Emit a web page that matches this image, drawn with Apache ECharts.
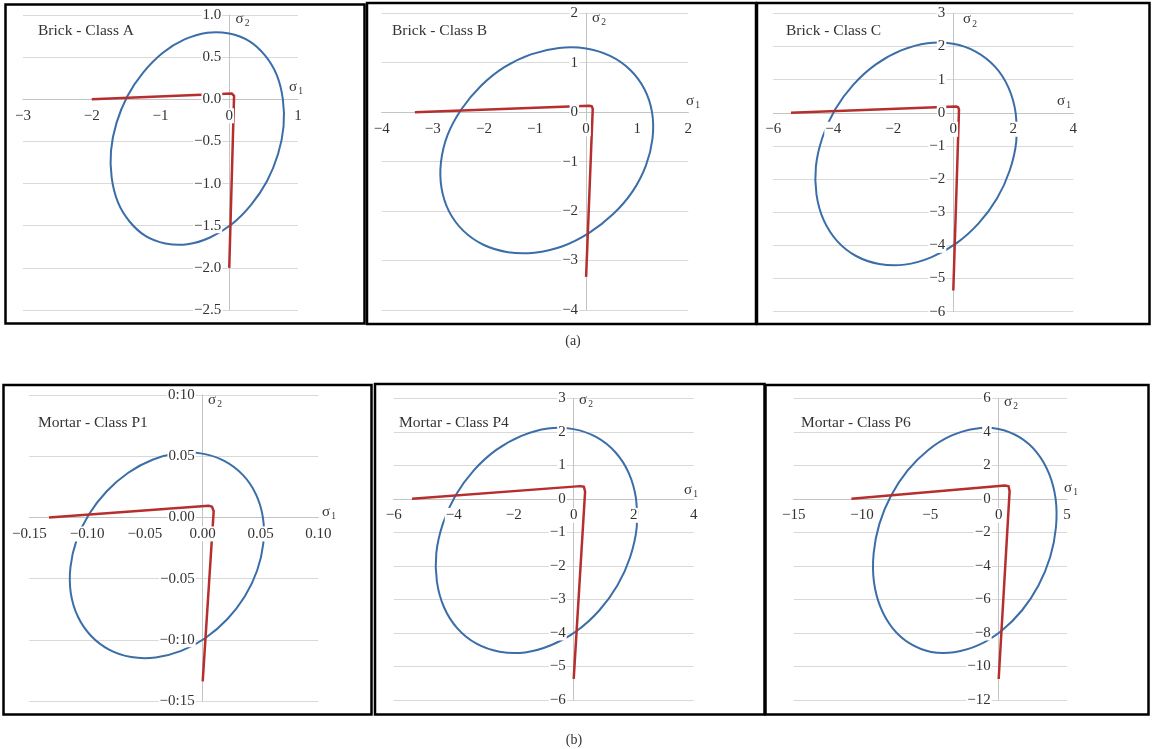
<!DOCTYPE html>
<html>
<head>
<meta charset="utf-8">
<script src="https://cdn.jsdelivr.net/npm/echarts@6/dist/echarts.min.js"></script>
<style>
  html, body { margin: 0; padding: 0; background: #fff; }
  #chart { width: 1152px; height: 749px; }
</style>
</head>
<body>
<div id="chart"></div>
<script>
// panel titles
const titles = ['Brick - Class A', 'Brick - Class B', 'Brick - Class C',
  'Mortar - Class P1', 'Mortar - Class P4', 'Mortar - Class P6']

// axis ranges [min, max, interval]
const xRanges = [[-3, 1, 1], [-4, 2, 1], [-6, 4, 2], [-0.15, 0.10, 0.05], [-6, 4, 2], [-15, 5, 5]]
const yRanges = [[-2.5, 1.0, 0.5], [-4, 2, 1], [-6, 3, 1], [-0.15, 0.10, 0.05], [-6, 3, 1], [-12, 6, 2]]

// tick labels, from min to max
const xTickA = ['−3', '−2', '−1', '0', '1']
const yTickA = ['−2.5', '−2.0', '−1.5', '−1.0', '−0.5', '0.0', '0.5', '1.0']
const xTickB = ['−4', '−3', '−2', '−1', '0', '1', '2']
const yTickB = ['−4', '−3', '−2', '−1', '0', '1', '2']
const xTickC = ['−6', '−4', '−2', '0', '2', '4']
const yTickC = ['−6', '−5', '−4', '−3', '−2', '−1', '0', '1', '2', '3']
const xTickP1 = ['−0.15', '−0.10', '−0.05', '0.00', '0.05', '0.10']
const yTickP1 = ['−0:15', '−0:10', '−0.05', '0.00', '0.05', '0:10']
const xTickP4 = ['−6', '−4', '−2', '0', '2', '4']
const yTickP4 = ['−6', '−5', '−4', '−3', '−2', '−1', '0', '1', '2', '3']
const xTickP6 = ['−15', '−10', '−5', '0', '5']
const yTickP6 = ['−12', '−10', '−8', '−6', '−4', '−2', '0', '2', '4', '6']

// ellipse points (sigma1, sigma2)
const ellipseA = [[0.52, 0.52], [0.69, 0.29], [0.78, 0.00], [0.79, -0.32], [0.71, -0.65], [0.55, -0.97],
  [0.32, -1.25], [0.04, -1.48], [-0.28, -1.64], [-0.61, -1.72], [-0.93, -1.71], [-1.22, -1.62],
  [-1.45, -1.45], [-1.62, -1.22], [-1.71, -0.93], [-1.72, -0.61], [-1.64, -0.28], [-1.48, 0.04],
  [-1.25, 0.32], [-0.97, 0.55], [-0.65, 0.71], [-0.32, 0.79], [0.00, 0.78], [0.29, 0.69]]
const ellipseB = [[0.86, 0.86], [1.14, 0.47], [1.29, 0.00], [1.30, -0.53], [1.17, -1.08], [0.91, -1.60],
  [0.53, -2.06], [0.06, -2.44], [-0.46, -2.71], [-1.01, -2.84], [-1.53, -2.83], [-2.01, -2.68],
  [-2.40, -2.40], [-2.68, -2.01], [-2.83, -1.53], [-2.84, -1.01], [-2.71, -0.46], [-2.44, 0.06],
  [-2.06, 0.53], [-1.60, 0.91], [-1.08, 1.17], [-0.53, 1.30], [0.00, 1.29], [0.47, 1.14]]
const ellipseC = [[1.39, 1.39], [1.84, 0.76], [2.08, -0.01], [2.10, -0.86], [1.88, -1.74], [1.46, -2.58],
  [0.85, -3.33], [0.10, -3.94], [-0.74, -4.36], [-1.62, -4.58], [-2.47, -4.56], [-3.24, -4.32],
  [-3.87, -3.87], [-4.32, -3.24], [-4.56, -2.47], [-4.58, -1.62], [-4.36, -0.74], [-3.94, 0.10],
  [-3.33, 0.85], [-2.58, 1.46], [-1.74, 1.88], [-0.86, 2.10], [-0.01, 2.08], [0.76, 1.84]]
const ellipseP1 = [[0.0347, 0.0347], [0.046, 0.019], [0.0521, -0.0002], [0.0524, -0.0214], [0.0471, -0.0434],
  [0.0365, -0.0644], [0.0212, -0.0832], [0.0024, -0.0985], [-0.0186, -0.1091], [-0.0406, -0.1144],
  [-0.0618, -0.1141], [-0.081, -0.108], [-0.0967, -0.0967], [-0.108, -0.081], [-0.1141, -0.0618],
  [-0.1144, -0.0406], [-0.1091, -0.0186], [-0.0985, 0.0024], [-0.0832, 0.0212], [-0.0644, 0.0365],
  [-0.0434, 0.0471], [-0.0214, 0.0524], [-0.0002, 0.0521], [0.019, 0.046]]
const ellipseP4 = [[1.39, 1.39], [1.84, 0.76], [2.08, -0.01], [2.10, -0.86], [1.88, -1.74], [1.46, -2.58],
  [0.85, -3.33], [0.10, -3.94], [-0.74, -4.36], [-1.62, -4.58], [-2.47, -4.56], [-3.24, -4.32],
  [-3.87, -3.87], [-4.32, -3.24], [-4.56, -2.47], [-4.58, -1.62], [-4.36, -0.74], [-3.94, 0.10],
  [-3.33, 0.85], [-2.58, 1.46], [-1.74, 1.88], [-0.86, 2.10], [-0.01, 2.08], [0.76, 1.84]]
const ellipseP6 = [[2.78, 2.78], [3.68, 1.52], [4.17, -0.02], [4.19, -1.71], [3.77, -3.47], [2.92, -5.15],
  [1.70, -6.66], [0.19, -7.88], [-1.49, -8.73], [-3.25, -9.15], [-4.94, -9.13], [-6.48, -8.64],
  [-7.74, -7.74], [-8.64, -6.48], [-9.13, -4.94], [-9.15, -3.25], [-8.73, -1.49], [-7.88, 0.19],
  [-6.66, 1.70], [-5.15, 2.92], [-3.47, 3.77], [-1.71, 4.19], [-0.02, 4.17], [1.52, 3.68]]

// failure envelope (red)
const failA = [[-2.0, 0], [0.035, 0.07], [0.06, 0.065], [0.07, 0.04], [0, -2.0]]
const failB = [[-3.35, 0], [0.06, 0.13], [0.11, 0.12], [0.13, 0.07], [0, -3.33]]
const failC = [[-5.41, 0], [0.09, 0.19], [0.16, 0.17], [0.19, 0.10], [0, -5.36]]
const failP1 = [[-0.133, 0], [0.005, 0.0095], [0.008, 0.0088], [0.0095, 0.005], [0, -0.134]]
const failP4 = [[-5.39, 0], [0.22, 0.38], [0.34, 0.36], [0.38, 0.22], [0, -5.37]]
const failP6 = [[-10.78, 0], [0.45, 0.8], [0.72, 0.76], [0.8, 0.45], [0, -10.75]]

const xTicks = [xTickA, xTickB, xTickC, xTickP1, xTickP4, xTickP6]
const yTicks = [yTickA, yTickB, yTickC, yTickP1, yTickP4, yTickP6]
const ellipses = [ellipseA, ellipseB, ellipseC, ellipseP1, ellipseP4, ellipseP6]
const fails = [failA, failB, failC, failP1, failP4, failP6]

// layout (pixels)
const layout = [
  { grid: [23, 15, 275, 295], box: [5.5, 4.5, 359, 319], title: [38, 31], s2: [239.5, 19], s1: [293, 87] },
  { grid: [381.7, 13.3, 306.6, 296.7], box: [367, 3, 389, 321], title: [392, 31], s2: [596, 18], s1: [690, 101] },
  { grid: [773.3, 13.3, 300, 298.4], box: [757, 3, 392.5, 321], title: [786, 31], s2: [967, 19.5], s1: [1061, 101] },
  { grid: [29.3, 395, 289, 306], box: [3.5, 385, 368, 329.5], title: [38, 423], s2: [212, 400], s1: [326, 512] },
  { grid: [393.7, 398.3, 300, 301.7], box: [375, 384, 389.5, 330.5], title: [399, 423], s2: [583, 400], s1: [688, 490] },
  { grid: [793.7, 398.3, 273.3, 301.7], box: [765.5, 385, 383, 329.5], title: [801, 423], s2: [1008, 402], s1: [1068, 488] }
]

const serif = 'Liberation Serif'
const textColor = '#333'
const blue = '#3b6ea8'
const red = '#b52f2e'

const grids = []
const xAxes = []
const yAxes = []
const series = []
const graphics = []

function tickFormatter(range, labels) {
  return function (v) {
    const i = Math.round((v - range[0]) / range[2])
    return labels[i] !== undefined ? labels[i] : ''
  }
}

// closed curve through the read points (Catmull-Rom in pixel space)
function closedCurve(points) {
  return function (params, api) {
    if (params.dataIndex !== 0) return null
    const pts = points.map(function (p) { return api.coord(p) })
    const n = pts.length
    let d = 'M' + pts[0][0] + ' ' + pts[0][1]
    for (let k = 0; k < n; k++) {
      const p0 = pts[(k - 1 + n) % n]
      const p1 = pts[k]
      const p2 = pts[(k + 1) % n]
      const p3 = pts[(k + 2) % n]
      const c1x = p1[0] + (p2[0] - p0[0]) / 6
      const c1y = p1[1] + (p2[1] - p0[1]) / 6
      const c2x = p2[0] - (p3[0] - p1[0]) / 6
      const c2y = p2[1] - (p3[1] - p1[1]) / 6
      d += 'C' + c1x + ' ' + c1y + ' ' + c2x + ' ' + c2y + ' ' + p2[0] + ' ' + p2[1]
    }
    d += 'Z'
    return {
      type: 'path',
      shape: { pathData: d },
      style: { fill: 'none', stroke: blue, lineWidth: 2 }
    }
  }
}

layout.forEach(function (p, i) {
  const g = {
    left: p.grid[0], top: p.grid[1], width: p.grid[2], height: p.grid[3],
    containLabel: false, outerBoundsMode: 'none'
  }
  grids.push(Object.assign({}, g), Object.assign({}, g))
  const base = 2 * i
  const lab = 2 * i + 1
  const xr = xRanges[i]
  const yr = yRanges[i]
  // label axes sit on the zero lines
  const xOff = -p.grid[3] * (0 - yr[0]) / (yr[1] - yr[0])
  const yOff = -p.grid[2] * (0 - xr[0]) / (xr[1] - xr[0])

  // axes for lines / gridlines, under the series
  xAxes.push({
    gridIndex: base, type: 'value', min: xr[0], max: xr[1], interval: xr[2],
    axisLine: { onZero: true, lineStyle: { color: '#c4c4c4', width: 1 } },
    axisTick: { show: false }, axisLabel: { show: false }, splitLine: { show: false }
  })
  yAxes.push({
    gridIndex: base, type: 'value', min: yr[0], max: yr[1], interval: yr[2],
    axisLine: { onZero: true, lineStyle: { color: '#c4c4c4', width: 1 } },
    axisTick: { show: false }, axisLabel: { show: false },
    splitLine: { show: true, lineStyle: { color: '#d9d9d9', width: 1 } }
  })
  // axes for labels, drawn over the series
  xAxes.push({
    gridIndex: lab, type: 'value', min: xr[0], max: xr[1], interval: xr[2], z: 10,
    position: 'bottom', offset: xOff,
    axisLine: { show: false, onZero: false }, axisTick: { show: false }, splitLine: { show: false },
    axisLabel: {
      formatter: tickFormatter(xr, xTicks[i]), margin: 9,
      fontFamily: serif, fontSize: 15, color: textColor,
      backgroundColor: '#fff', padding: [0, 1]
    }
  })
  yAxes.push({
    gridIndex: lab, type: 'value', min: yr[0], max: yr[1], interval: yr[2], z: 10,
    position: 'left', offset: yOff,
    axisLine: { show: false, onZero: false }, axisTick: { show: false }, splitLine: { show: false },
    axisLabel: {
      formatter: tickFormatter(yr, yTicks[i]), margin: 7,
      fontFamily: serif, fontSize: 15, color: textColor,
      backgroundColor: '#fff', padding: [0, 1]
    }
  })

  series.push({
    type: 'custom', xAxisIndex: base, yAxisIndex: base, data: ellipses[i],
    encode: { x: 0, y: 1 }, z: 2, silent: true,
    renderItem: closedCurve(ellipses[i])
  })
  series.push({
    type: 'line', xAxisIndex: base, yAxisIndex: base, data: fails[i],
    symbol: 'none', z: 3, silent: true,
    lineStyle: { color: red, width: 2.5, join: 'round' }
  })

  graphics.push({
    type: 'rect', silent: true, z: 100,
    shape: { x: p.box[0], y: p.box[1], width: p.box[2], height: p.box[3] },
    style: { fill: 'none', stroke: '#000', lineWidth: 2.5 }
  })
  graphics.push({
    type: 'text', silent: true, z: 100, x: p.title[0], y: p.title[1],
    style: {
      text: titles[i], fill: textColor, fontFamily: serif, fontSize: 15.5,
      align: 'left', verticalAlign: 'middle', textAlign: 'left', textVerticalAlign: 'middle'
    }
  })
  const sigmas = [[p.s2, '2'], [p.s1, '1']]
  sigmas.forEach(function (s) {
    graphics.push({
      type: 'text', silent: true, z: 100, x: s[0][0], y: s[0][1],
      style: {
        text: 'σ', fill: textColor, fontFamily: serif, fontSize: 15,
        align: 'center', verticalAlign: 'middle', textAlign: 'center', textVerticalAlign: 'middle'
      }
    })
    graphics.push({
      type: 'text', silent: true, z: 100, x: s[0][0] + 7.5, y: s[0][1] + 4.5,
      style: {
        text: s[1], fill: textColor, fontFamily: serif, fontSize: 9.5,
        align: 'center', verticalAlign: 'middle', textAlign: 'center', textVerticalAlign: 'middle'
      }
    })
  })
})

// captions
const captions = [['(a)', 573, 341], ['(b)', 574, 740]]
captions.forEach(function (c) {
  graphics.push({
    type: 'text', silent: true, z: 100, x: c[1], y: c[2],
    style: {
      text: c[0], fill: textColor, fontFamily: serif, fontSize: 14,
      align: 'center', verticalAlign: 'middle', textAlign: 'center', textVerticalAlign: 'middle'
    }
  })
})

const chart = echarts.init(document.getElementById('chart'))
chart.setOption({
  animation: false,
  backgroundColor: '#fff',
  grid: grids,
  xAxis: xAxes,
  yAxis: yAxes,
  series: series,
  graphic: { elements: graphics }
})
</script>
</body>
</html>
